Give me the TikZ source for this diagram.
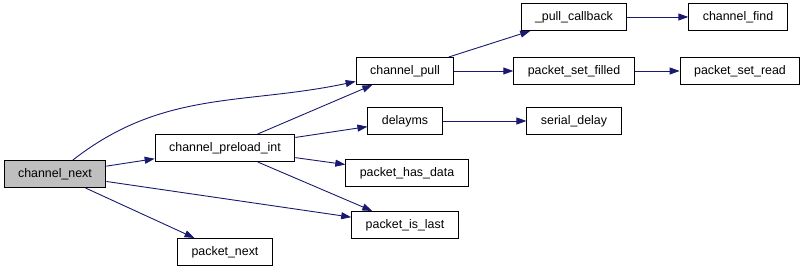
\documentclass[tikz,border=0pt]{standalone}
\usepackage{fontspec}
\setmainfont{Liberation Sans}
\usetikzlibrary{arrows.meta}
\definecolor{navy}{HTML}{191970}
\definecolor{hilite}{HTML}{BFBFBF}

\begin{document}
\begin{tikzpicture}[x=1pt, y=-1pt,
    fn/.style={draw=black, line width=1pt, fill=white, minimum height=27pt,
      inner xsep=14pt, inner ysep=0pt, font=\fontsize{12.4}{14}\selectfont},
    >={Triangle[length=10pt,width=7pt]},
    every path/.append style={line width=0.9pt}]
    \useasboundingbox (0,0) rectangle (808,272);
    \node[fn, fill=hilite] (next) at (55,174) {channel\_next};
    \node[fn] (preload) at (225,148) {channel\_preload\_int};
    \node[fn] (pnext) at (225,252) {packet\_next};
    \node[fn] (pull) at (405,71) {channel\_pull};
    \node[fn] (delay) at (405,121) {delayms};
    \node[fn] (hasdata) at (407,173) {packet\_has\_data};
    \node[fn] (islast) at (405,225) {packet\_is\_last};
    \node[fn] (cb) at (574,17) {\_pull\_callback};
    \node[fn] (filled) at (574,71) {packet\_set\_filled};
    \node[fn] (sdelay) at (574,121) {serial\_delay};
    \node[fn] (find) at (738,17) {channel\_find};
    \node[fn] (read) at (740,71) {packet\_set\_read};
    % calls out of channel_next
    \draw[->, navy] (next) to[out=38, in=192] (pull);
    \draw[->, navy] (next) -- (preload);
    \draw[->, navy] (next) -- (islast);
    \draw[->, navy] (next) -- (pnext);
    % calls out of channel_preload_int
    \draw[->, navy] (preload) -- (pull);
    \draw[->, navy] (preload) -- (delay);
    \draw[->, navy] (preload) -- (hasdata);
    \draw[->, navy] (preload) -- (islast);
    % right hand side
    \draw[->, navy] (pull) -- (cb);
    \draw[->, navy] (pull) -- (filled);
    \draw[->, navy] (delay) -- (sdelay);
    \draw[->, navy] (cb) -- (find);
    \draw[->, navy] (filled) -- (read);
\end{tikzpicture}
\end{document}
